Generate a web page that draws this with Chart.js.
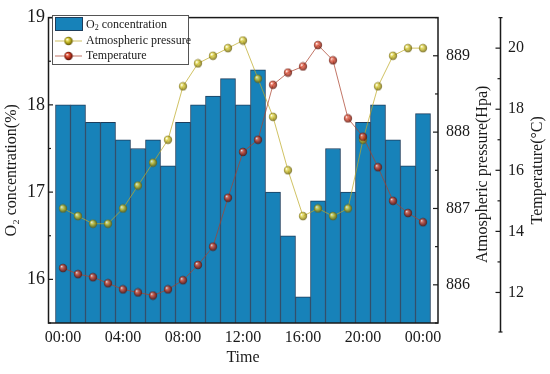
<!DOCTYPE html>
<html><head><meta charset="utf-8">
<script src="https://cdn.jsdelivr.net/npm/chart.js@4.4.1/dist/chart.umd.min.js"></script>
<style>html,body{margin:0;padding:0;background:#fff}#wrap{width:550px;height:374px}</style>
</head><body><div id="wrap"><canvas id="c" width="550" height="374"></canvas></div>
<script>
// ---- data ----
const hours = [0,1,2,3,4,5,6,7,8,9,10,11,12,13,14,15,16,17,18,19,20,21,22,23,24];
const timeTickPositions = [0,4,8,12,16,20,24];
const timeLabels = ['00:00','04:00','08:00','12:00','16:00','20:00','00:00'];
const o2 = [18.0,18.0,17.8,17.8,17.6,17.5,17.6,17.3,17.8,18.0,18.1,18.3,18.0,18.4,17.0,16.5,15.8,16.9,17.5,17.0,17.8,18.0,17.6,17.3,17.9];
const pressure = [887.0,886.9,886.8,886.8,887.0,887.3,887.6,887.9,888.6,888.9,889.0,889.1,889.2,888.7,888.2,887.5,886.9,887.0,886.9,887.0,887.9,888.6,889.0,889.1,889.1];
const temperature = [12.8,12.6,12.5,12.3,12.1,12.0,11.9,12.1,12.4,12.9,13.5,15.1,16.6,17.0,18.8,19.2,19.4,20.1,19.6,17.7,17.1,16.1,15.0,14.6,14.3];
const o2Ticks = [15.5,16,16.5,17,17.5,18,18.5,19];
const pressureTicks = [885.5,886,886.5,887,887.5,888,888.5,889,889.5];
const tempTicks = [11,12,13,14,15,16,17,18,19,20,21];

const SERIF = '"Liberation Serif", "Times New Roman", serif';
const BAR_FILL = '#1782b9';
const BAR_EDGE = '#1d3d5c';
const P_LINE = 'rgba(190,170,40,0.72)';
const T_LINE = 'rgba(170,65,45,0.72)';

function sphere(base, light, dark, r, alpha) {
  const s = Math.ceil(r * 2) + 1;
  const c = document.createElement('canvas');
  c.width = s; c.height = s;
  const g = c.getContext('2d');
  const cx = s / 2, cy = s / 2;
  const gr = g.createRadialGradient(cx - r * 0.35, cy - r * 0.4, r * 0.08, cx, cy, r);
  gr.addColorStop(0, '#ffffff');
  gr.addColorStop(0.22, light);
  gr.addColorStop(0.6, base);
  gr.addColorStop(1, dark);
  g.globalAlpha = alpha;
  g.fillStyle = gr;
  g.beginPath(); g.arc(cx, cy, r, 0, Math.PI * 2); g.fill();
  return c;
}
const pSphere = sphere('#b4a618', '#ece468', '#5e5408', 4.2, 0.78);
const tSphere = sphere('#b8301a', '#ee7058', '#4e0c04', 4.2, 0.78);
const pSphereLegend = sphere('#b4a618', '#ece468', '#5e5408', 4.2, 1);
const tSphereLegend = sphere('#b8301a', '#ee7058', '#4e0c04', 4.2, 1);

const toXY = arr => arr.map((v, i) => ({x: hours[i], y: v}));

const framePlugin = {
  id: 'frame',
  afterDatasetsDraw(chart) {
    const {ctx, chartArea: a, scales} = chart;
    ctx.save();
    ctx.strokeStyle = '#1a1a1a';
    ctx.lineWidth = 1.5;
    ctx.strokeRect(a.left + 0.5, a.top, a.right - a.left - 0.5, a.bottom - a.top);
    ctx.lineWidth = 1.2;
    const tick = (x, y, dx) => { ctx.beginPath(); ctx.moveTo(x, y); ctx.lineTo(x + dx, y); ctx.stroke(); };
    o2Ticks.forEach(v => { const y = scales.y.getPixelForValue(v); tick(a.left, y, Number.isInteger(v) ? 5 : 3); });
    pressureTicks.forEach(v => { const y = scales.y1.getPixelForValue(v); tick(a.right, y, Number.isInteger(v) ? -5 : -3); });
    const tx = scales.y2.left + 0.5;
    ctx.lineWidth = 1.5;
    ctx.beginPath(); ctx.moveTo(tx, a.top); ctx.lineTo(tx, a.bottom + 9); ctx.stroke();
    ctx.lineWidth = 1.2;
    tick(tx - 2, a.top, 4); tick(tx - 2, a.bottom + 9, 4);
    tempTicks.forEach(v => { if (v === 11 || v === 21) return; const y = scales.y2.getPixelForValue(v); tick(tx, y, v % 2 === 0 ? -5 : -3); });
    // right-hand axis titles (read bottom to top)
    ctx.fillStyle = '#1a1a1a';
    ctx.font = '16px ' + SERIF;
    ctx.textAlign = 'center'; ctx.textBaseline = 'middle';
    const mid = (a.top + a.bottom) / 2;
    ctx.save(); ctx.translate(483, mid + 4); ctx.rotate(-Math.PI / 2); ctx.fillText('Atmospheric pressure(Hpa)', 0, 0); ctx.restore();
    ctx.save(); ctx.translate(538, mid); ctx.rotate(-Math.PI / 2); ctx.fillText('Temperature(\u00B0C)', 0, 0); ctx.restore();
    ctx.restore();
  },
  afterDraw(chart) {
    const {ctx} = chart;
    ctx.save();
    ctx.fillStyle = '#ffffff';
    ctx.strokeStyle = '#555';
    ctx.lineWidth = 1;
    ctx.fillRect(52.5, 15.5, 136, 49);
    ctx.strokeRect(52.5, 15.5, 136, 49);
    // row 1: bar swatch
    ctx.fillStyle = BAR_FILL; ctx.strokeStyle = BAR_EDGE;
    ctx.fillRect(55.5, 17.5, 27, 13); ctx.strokeRect(55.5, 17.5, 27, 13);
    ctx.fillStyle = '#1a1a1a';
    ctx.font = '12px ' + SERIF; ctx.textBaseline = 'middle'; ctx.textAlign = 'left';
    ctx.fillText('O', 86, 24.5);
    const ow = ctx.measureText('O').width;
    ctx.font = '8px ' + SERIF; ctx.fillText('2', 86 + ow, 28);
    const sw = ctx.measureText('2').width;
    ctx.font = '12px ' + SERIF; ctx.fillText(' concentration', 86 + ow + sw, 24.5);
    // row 2
    ctx.strokeStyle = P_LINE; ctx.lineWidth = 1;
    ctx.beginPath(); ctx.moveTo(55, 41); ctx.lineTo(82, 41); ctx.stroke();
    ctx.drawImage(pSphereLegend, 68.5 - pSphereLegend.width / 2, 41 - pSphereLegend.height / 2);
    ctx.fillText('Atmospheric pressure', 86, 41);
    // row 3
    ctx.strokeStyle = T_LINE;
    ctx.beginPath(); ctx.moveTo(55, 56); ctx.lineTo(82, 56); ctx.stroke();
    ctx.drawImage(tSphereLegend, 68.5 - tSphereLegend.width / 2, 56 - tSphereLegend.height / 2);
    ctx.fillText('Temperature', 86, 56);
    ctx.restore();
  }
};

new Chart(document.getElementById('c'), {
  type: 'bar',
  data: {
    datasets: [
      {type: 'line', label: 'Temperature', data: toXY(temperature), xAxisID: 'x', yAxisID: 'y2', order: 1,
       borderColor: T_LINE, borderWidth: 1, pointStyle: tSphere, pointRadius: 4, tension: 0, fill: false},
      {type: 'line', label: 'Atmospheric pressure', data: toXY(pressure), xAxisID: 'x', yAxisID: 'y1', order: 2,
       borderColor: P_LINE, borderWidth: 1, pointStyle: pSphere, pointRadius: 4, tension: 0, fill: false},
      {type: 'bar', label: 'O\u2082 concentration', data: toXY(o2), xAxisID: 'x', yAxisID: 'y', order: 3,
       backgroundColor: BAR_FILL, borderColor: BAR_EDGE, borderWidth: 1,
       barPercentage: 1, categoryPercentage: 1}
    ]
  },
  options: {
    responsive: false, animation: false, devicePixelRatio: 1,
    layout: {padding: {top: 9, left: 0, right: 0, bottom: 0}},
    plugins: {legend: {display: false}, tooltip: {enabled: false}},
    scales: {
      x: {
        type: 'linear', position: 'bottom', min: -1, max: 25, offset: false,
        afterBuildTicks: s => { s.ticks = timeTickPositions.map(v => ({value: v})); },
        ticks: {callback: (v, i) => timeLabels[i], font: {family: SERIF, size: 16}, color: '#1a1a1a',
                maxRotation: 0, autoSkip: false, padding: 5},
        grid: {display: false, drawTicks: false}, border: {display: false},
        title: {display: true, text: 'Time', font: {family: SERIF, size: 16}, color: '#1a1a1a', padding: {top: 4, bottom: 7}},
        afterFit: s => { s.height = 51; }
      },
      y: {
        type: 'linear', position: 'left', min: 15.5, max: 19,
        afterBuildTicks: s => { s.ticks = o2Ticks.map(v => ({value: v})); },
        ticks: {callback: v => Number.isInteger(v) ? String(v) : '', font: {family: SERIF, size: 18}, color: '#1a1a1a', padding: 3},
        grid: {display: false, drawTicks: false}, border: {display: false},
        title: {display: true, text: 'O\u2082 concentration(%)', font: {family: SERIF, size: 16}, color: '#1a1a1a', padding: {top: 2, bottom: 0}},
        afterFit: s => { s.width = 48; }
      },
      y1: {
        type: 'linear', position: 'right', weight: 0, min: 885.5, max: 889.5,
        afterBuildTicks: s => { s.ticks = pressureTicks.map(v => ({value: v})); },
        ticks: {callback: v => Number.isInteger(v) ? String(v) : '', font: {family: SERIF, size: 16}, color: '#1a1a1a', padding: 8},
        grid: {display: false, drawTicks: false}, border: {display: false},
        title: {display: false, text: 'Atmospheric pressure(Hpa)'},
        afterFit: s => { s.width = 62; }
      },
      y2: {
        type: 'linear', position: 'right', weight: 1, min: 11, max: 21,
        afterBuildTicks: s => { s.ticks = tempTicks.map(v => ({value: v})); },
        ticks: {callback: v => (v % 2 === 0) ? String(v) : '', font: {family: SERIF, size: 16}, color: '#1a1a1a', padding: 8},
        grid: {display: false, drawTicks: false}, border: {display: false},
        title: {display: false, text: 'Temperature(\u00B0C)'},
        afterFit: s => { s.width = 50; }
      }
    }
  },
  plugins: [framePlugin]
});
</script>
</body></html>
